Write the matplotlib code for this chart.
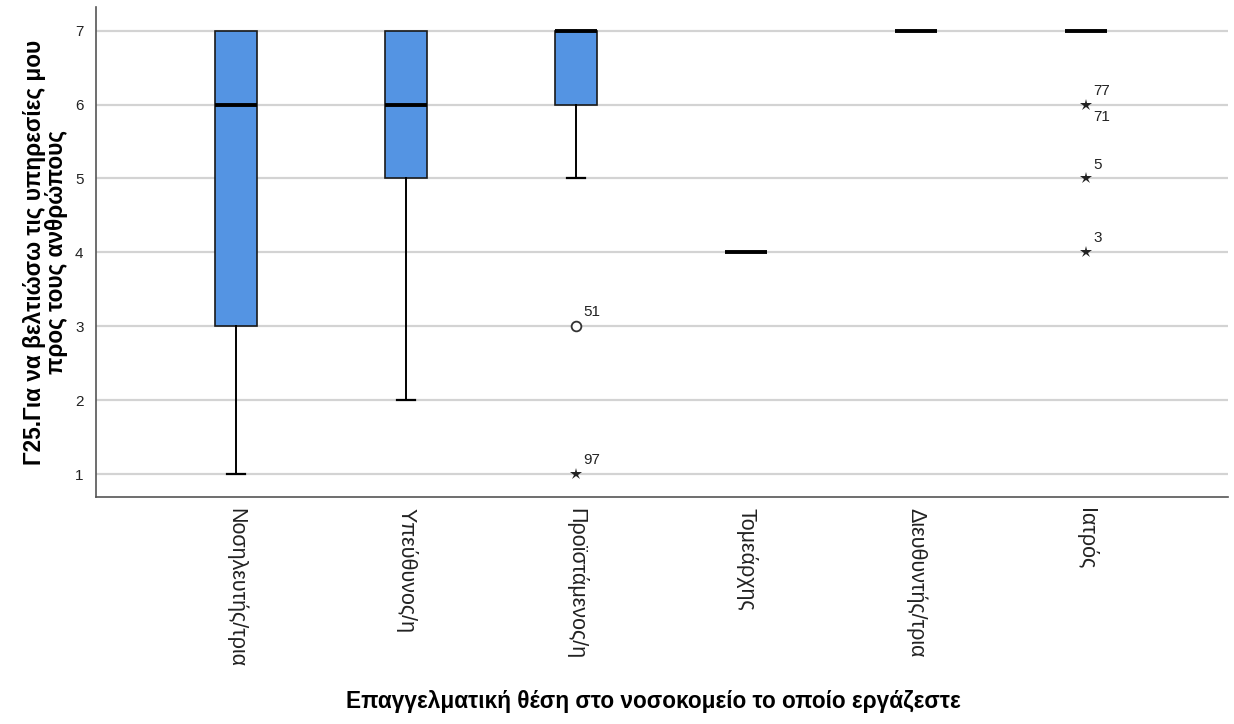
import matplotlib
matplotlib.use("Agg")
import matplotlib.pyplot as plt

plt.rcParams['font.family'] = ['Liberation Sans', 'DejaVu Sans']

categories = ["Νοσηλευτής/τρια", "Υπεύθυνος/η", "Προϊστάμενος/η",
              "Τομεάρχης", "Διευθυντής/τρια", "Ιατρός"]
q1 = [3, 5, 6, 4, 7, 7]
median = [6, 6, 7, 4, 7, 7]
q3 = [7, 7, 7, 4, 7, 7]
whisker_low = [1, 2, 5, 4, 7, 7]
whisker_high = [7, 7, 7, 4, 7, 7]

# outliers: (category index, value, case label, kind)
outlier_cat = [2, 2, 5, 5, 5]
outlier_val = [3, 1, 6, 5, 4]
outlier_kind = ["o", "*", "*", "*", "*"]
outlier_ids = [["51"], ["97"], ["77", "71"], ["5"], ["3"]]

fig = plt.figure(figsize=(12.34, 7.24), dpi=100)
ax = fig.add_axes([96/1234, 1 - 497/724, (1228 - 96)/1234, (497 - 7)/724])

stats = []
for i in range(len(categories)):
    stats.append(dict(q1=q1[i], med=median[i], q3=q3[i],
                      whislo=whisker_low[i], whishi=whisker_high[i], fliers=[]))

positions = list(range(len(categories)))
art = ax.bxp(stats, positions=positions, widths=0.25, patch_artist=True,
             showfliers=False,
             boxprops=dict(facecolor="#5494e3", edgecolor="#1a1a1a", linewidth=1.2),
             medianprops=dict(color="black", linewidth=2.8, solid_capstyle="butt"),
             whiskerprops=dict(color="black", linewidth=1.4),
             capprops=dict(color="black", linewidth=1.6),
             capwidths=0.11, zorder=3)

# whiskers of zero length get no visible cap
for i in range(len(categories)):
    if whisker_low[i] == q1[i]:
        art["caps"][2 * i].set_visible(False)
    if whisker_high[i] == q3[i]:
        art["caps"][2 * i + 1].set_visible(False)

for c, v, k, ids in zip(outlier_cat, outlier_val, outlier_kind, outlier_ids):
    if k == "o":
        ax.plot(c, v, marker="o", markersize=7, markerfacecolor="white",
                markeredgecolor="#333333", markeredgewidth=1.3, zorder=4)
    else:
        ax.plot(c, v, marker="*", markersize=9, color="#222222",
                markeredgewidth=0, zorder=4)
    ax.annotate(ids[0], (c, v), xytext=(5, 5), textcoords="offset points",
                fontsize=11, color="#222222", ha="left", va="bottom")
    if len(ids) > 1:
        ax.annotate(ids[1], (c, v), xytext=(5, -4), textcoords="offset points",
                    fontsize=11, color="#222222", ha="left", va="top")

ax.set_xlim(-0.824, 5.835)
ax.set_ylim(0.69, 7.32)
ax.set_yticks([1, 2, 3, 4, 5, 6, 7])
ax.set_xticks(positions)
ax.set_xticklabels(categories, rotation=-90, fontsize=15.5, va="top", ha="center")
ax.tick_params(axis="both", length=0, colors="#222222")
ax.tick_params(axis="y", labelsize=11, pad=9)
ax.tick_params(axis="x", pad=8)

ax.yaxis.grid(True, color="#d3d3d3", linewidth=1.6, zorder=0)
ax.set_axisbelow(True)
for s in ["top", "right"]:
    ax.spines[s].set_visible(False)
for s in ["left", "bottom"]:
    ax.spines[s].set_color("#555555")
    ax.spines[s].set_linewidth(1.2)

ax.set_ylabel("Γ25.Για να βελτιώσω τις υπηρεσίες μου\nπρος τους ανθρώπους",
              fontsize=16.3, fontweight="bold", linespacing=0.92)
ax.yaxis.set_label_coords(-0.025, 0.5)
ax.set_xlabel("Επαγγελματική θέση στο νοσοκομείο το οποίο εργάζεστε",
              fontsize=16.3, fontweight="bold")
ax.xaxis.set_label_coords(0.492, -0.394)

fig.savefig("out.png", dpi=100)
